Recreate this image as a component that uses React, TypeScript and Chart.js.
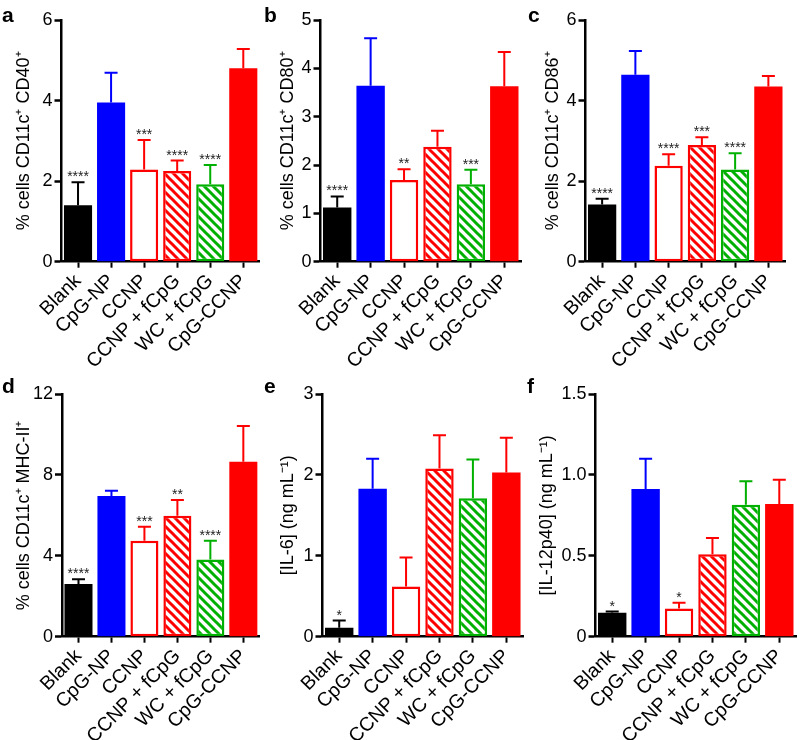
import React, { useEffect, useRef } from "react";
import { Chart, registerables } from "chart.js";

Chart.register(...registerables);

// ---------- data ----------
const categories = ["Blank", "CpG-NP", "CCNP", "CCNP + fCpG", "WC + fCpG", "CpG-CCNP"];

const cd40Mean = [1.4, 3.95, 2.29, 2.25, 1.92, 4.8];
const cd40Err = [0.57, 0.74, 0.73, 0.26, 0.48, 0.48];
const cd40Stars = ["****", "", "***", "****", "****", ""];
const cd40Ticks = [0, 2, 4, 6];
const cd40TickLabels = ["0", "2", "4", "6"];

const cd80Mean = [1.12, 3.64, 1.69, 2.38, 1.6, 3.63];
const cd80Err = [0.23, 0.98, 0.22, 0.33, 0.3, 0.71];
const cd80Stars = ["****", "", "**", "", "***", ""];
const cd80Ticks = [0, 1, 2, 3, 4, 5];
const cd80TickLabels = ["0", "1", "2", "3", "4", "5"];

const cd86Mean = [1.42, 4.64, 2.38, 2.9, 2.29, 4.35];
const cd86Err = [0.14, 0.59, 0.29, 0.19, 0.4, 0.26];
const cd86Stars = ["****", "", "****", "***", "****", ""];
const cd86Ticks = [0, 2, 4, 6];
const cd86TickLabels = ["0", "2", "4", "6"];

const mhcMean = [2.6, 6.96, 4.75, 5.98, 3.82, 8.65];
const mhcErr = [0.24, 0.26, 0.69, 0.78, 0.93, 1.77];
const mhcStars = ["****", "", "***", "**", "****", ""];
const mhcTicks = [0, 4, 8, 12];
const mhcTickLabels = ["0", "4", "8", "12"];

const il6Mean = [0.11, 1.83, 0.62, 2.08, 1.71, 2.03];
const il6Err = [0.09, 0.37, 0.36, 0.41, 0.48, 0.43];
const il6Stars = ["*", "", "", "", "", ""];
const il6Ticks = [0, 1, 2, 3];
const il6TickLabels = ["0", "1", "2", "3"];

const il12Mean = [0.148, 0.913, 0.175, 0.51, 0.815, 0.82];
const il12Err = [0.007, 0.187, 0.035, 0.1, 0.145, 0.15];
const il12Stars = ["*", "", "*", "", "", ""];
const il12Ticks = [0, 0.5, 1.0, 1.5];
const il12TickLabels = ["0", "0.5", "1.0", "1.5"];

const panelLetters = ["a", "b", "c", "d", "e", "f"];
const panelTitles = [
  "% cells CD11c\u207A CD40\u207A",
  "% cells CD11c\u207A CD80\u207A",
  "% cells CD11c\u207A CD86\u207A",
  "% cells CD11c\u207A MHC-II\u207A",
  "[IL-6] (ng mL\u207B\u00B9)",
  "[IL-12p40] (ng mL\u207B\u00B9)",
];

// ---------- styles ----------
const FONT = "'Liberation Sans', Arial, Helvetica, sans-serif";
const BLACK = "#000000";
const BLUE = "#0000ff";
const RED = "#ff0000";
const GREEN = "#00b000";

type Layout = {
  left: number; top: number; width: number; height: number;
  axisX: number; axisRight: number; plotTop: number; plotBottom: number;
  titleCenter: number; letterX: number; letterY: number;
};
const layouts: Layout[] = [
  { left: 0, top: 0, width: 262, height: 370, axisX: 61.5, axisRight: 260, plotTop: 20, plotBottom: 261.7, titleCenter: 24, letterX: 2, letterY: 22 },
  { left: 262, top: 0, width: 263, height: 370, axisX: 320.5, axisRight: 521, plotTop: 20, plotBottom: 261.7, titleCenter: 26, letterX: 2, letterY: 22 },
  { left: 525, top: 0, width: 275, height: 370, axisX: 585.5, axisRight: 785, plotTop: 20, plotBottom: 261.7, titleCenter: 28, letterX: 3, letterY: 22 },
  { left: 0, top: 370, width: 262, height: 370, axisX: 62, axisRight: 260.5, plotTop: 24, plotBottom: 266.7, titleCenter: 24, letterX: 2, letterY: 22.7 },
  { left: 262, top: 370, width: 263, height: 370, axisX: 322.5, axisRight: 523.5, plotTop: 24, plotBottom: 266.7, titleCenter: 26, letterX: 2, letterY: 22.7 },
  { left: 525, top: 370, width: 275, height: 370, axisX: 595.5, axisRight: 796, plotTop: 24, plotBottom: 266.7, titleCenter: 22, letterX: 2, letterY: 22.7 },
];

const panelData = [
  { means: cd40Mean, errs: cd40Err, stars: cd40Stars, ticks: cd40Ticks, tickLabels: cd40TickLabels },
  { means: cd80Mean, errs: cd80Err, stars: cd80Stars, ticks: cd80Ticks, tickLabels: cd80TickLabels },
  { means: cd86Mean, errs: cd86Err, stars: cd86Stars, ticks: cd86Ticks, tickLabels: cd86TickLabels },
  { means: mhcMean, errs: mhcErr, stars: mhcStars, ticks: mhcTicks, tickLabels: mhcTickLabels },
  { means: il6Mean, errs: il6Err, stars: il6Stars, ticks: il6Ticks, tickLabels: il6TickLabels },
  { means: il12Mean, errs: il12Err, stars: il12Stars, ticks: il12Ticks, tickLabels: il12TickLabels },
];

function hatch(color: string): CanvasPattern | string {
  const s = 9;
  const c = document.createElement("canvas");
  c.width = s;
  c.height = s;
  const g = c.getContext("2d");
  if (!g) return color;
  g.fillStyle = "#ffffff";
  g.fillRect(0, 0, s, s);
  g.strokeStyle = color;
  g.lineWidth = 3;
  for (const k of [-s, 0, s]) {
    g.beginPath();
    g.moveTo(k - 2, -2);
    g.lineTo(k + s + 2, s + 2);
    g.stroke();
  }
  return g.createPattern(c, "repeat") || color;
}

const overlayPlugin = {
  id: "overlay",
  afterDatasetsDraw(chart: any, _args: any, opts: any) {
    const ctx = chart.ctx as CanvasRenderingContext2D;
    const meta = chart.getDatasetMeta(0);
    const ys = chart.scales.y;
    ctx.save();
    meta.data.forEach((bar: any, i: number) => {
      const col = opts.errColors[i];
      const yTop = ys.getPixelForValue(opts.means[i]);
      const yErr = ys.getPixelForValue(opts.means[i] + opts.errs[i]);
      ctx.strokeStyle = col;
      ctx.lineWidth = 2;
      ctx.beginPath();
      ctx.moveTo(bar.x, yTop);
      ctx.lineTo(bar.x, yErr);
      ctx.moveTo(bar.x - 6.5, yErr);
      ctx.lineTo(bar.x + 6.5, yErr);
      ctx.stroke();
      const st = opts.stars[i];
      if (st) {
        ctx.fillStyle = "#222222";
        ctx.font = `14px ${FONT}`;
        ctx.textAlign = "center";
        ctx.textBaseline = "alphabetic";
        ctx.fillText(st, bar.x, yErr - 1);
      }
    });
    ctx.restore();
  },
  afterDraw(chart: any, _args: any, opts: any) {
    const ctx = chart.ctx as CanvasRenderingContext2D;
    ctx.save();
    ctx.fillStyle = BLACK;
    ctx.font = `bold 21px ${FONT}`;
    ctx.textAlign = "left";
    ctx.textBaseline = "alphabetic";
    ctx.fillText(opts.letter, opts.letterX, opts.letterY);
    ctx.restore();
  },
};

function Panel({ index }: { index: number }) {
  const ref = useRef<HTMLCanvasElement>(null);
  const L = layouts[index];
  const D = panelData[index];
  useEffect(() => {
    if (!ref.current) return;
    const yWidth = L.axisX - L.left;
    const padRight = L.left + L.width - L.axisRight;
    const plotTop = L.plotTop;
    const xHeight = L.height - L.plotBottom;
    const titleFont = 18;
    const chart = new Chart(ref.current, {
      type: "bar",
      data: {
        labels: categories,
        datasets: [
          {
            data: D.means,
            backgroundColor: [BLACK, BLUE, "#ffffff", hatch(RED), hatch(GREEN), RED] as any,
            borderColor: [BLACK, BLUE, RED, RED, GREEN, RED],
            borderWidth: [0, 0, 2.5, 2.5, 2.5, 0],
            borderSkipped: false,
            barPercentage: 0.85,
            categoryPercentage: 1,
          },
        ],
      },
      options: {
        animation: false,
        responsive: false,
        maintainAspectRatio: false,
        devicePixelRatio: 1,
        events: [],
        layout: { padding: { left: 0, right: padRight, top: plotTop, bottom: 0 } },
        plugins: {
          legend: { display: false },
          tooltip: { enabled: false },
          overlay: {
            means: D.means,
            errs: D.errs,
            stars: D.stars,
            errColors: [BLACK, BLUE, RED, RED, GREEN, RED],
            letter: panelLetters[index],
            letterX: L.letterX,
            letterY: L.letterY,
          },
        } as any,
        scales: {
          x: {
            grid: {
              display: true,
              offset: false,
              drawOnChartArea: false,
              drawTicks: true,
              tickLength: 6,
              tickWidth: 2,
              tickColor: BLACK,
              color: BLACK,
            },
            border: { display: true, color: BLACK, width: 2.5 },
            ticks: {
              color: BLACK,
              font: { family: FONT, size: 19.5 },
              maxRotation: 45,
              minRotation: 45,
              autoSkip: false,
              padding: 2,
            },
            afterFit: (s: any) => {
              s.height = xHeight;
            },
          },
          y: {
            min: 0,
            max: D.ticks[D.ticks.length - 1],
            afterBuildTicks: (s: any) => {
              s.ticks = D.ticks.map((v) => ({ value: v }));
            },
            grid: {
              display: true,
              drawOnChartArea: false,
              drawTicks: true,
              tickLength: 7,
              tickWidth: 2.5,
              tickColor: BLACK,
              color: BLACK,
            },
            border: { display: true, color: BLACK, width: 2.5 },
            ticks: {
              color: BLACK,
              font: { family: FONT, size: 18 },
              padding: 2,
              callback: (v: any) => {
                const k = D.ticks.indexOf(Number(v));
                return k >= 0 ? D.tickLabels[k] : String(v);
              },
            },
            title: {
              display: true,
              text: panelTitles[index],
              color: BLACK,
              font: { family: FONT, size: titleFont },
              padding: { top: L.titleCenter - titleFont * 0.6, bottom: 0 },
            },
            afterFit: (s: any) => {
              s.width = yWidth;
            },
          },
        },
      } as any,
      plugins: [overlayPlugin as any],
    });
    return () => chart.destroy();
  }, []);
  return (
    <canvas
      ref={ref}
      width={L.width}
      height={L.height}
      style={{ position: "absolute", left: L.left, top: L.top, width: L.width, height: L.height }}
    />
  );
}

export default function App() {
  return (
    <div style={{ position: "absolute", left: 0, top: 0, width: 800, height: 740, background: "#ffffff", overflow: "hidden" }}>
      {layouts.map((_, i) => (
        <Panel key={i} index={i} />
      ))}
    </div>
  );
}
